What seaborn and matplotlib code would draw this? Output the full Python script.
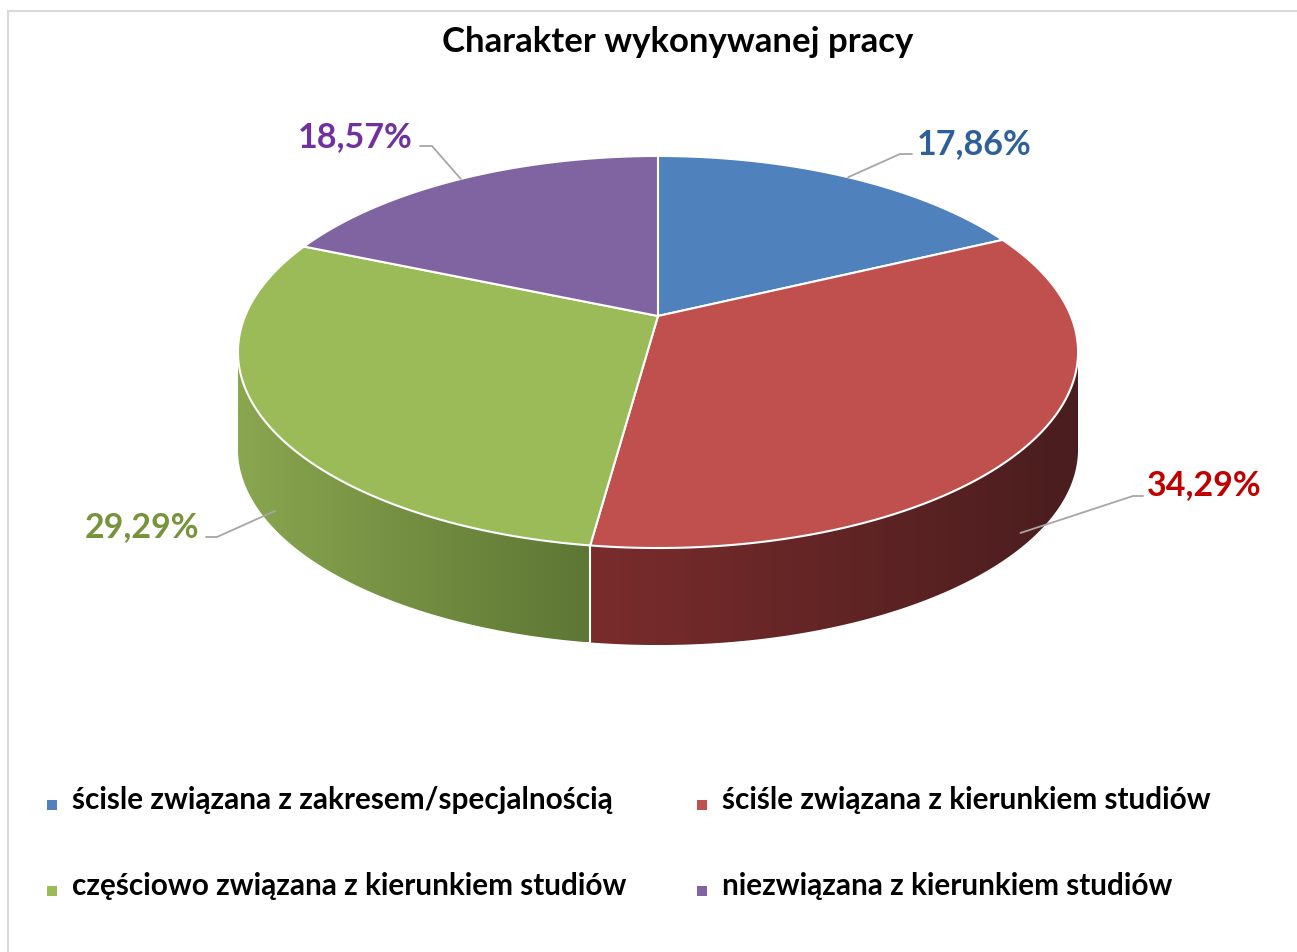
import numpy as np
import matplotlib
matplotlib.use("Agg")
import matplotlib.pyplot as plt
import seaborn as sns
from matplotlib.colors import LinearSegmentedColormap
from matplotlib.patches import Polygon
from matplotlib.path import Path
from matplotlib.transforms import Transform

# dane
kategorie = ["ścisle związana z zakresem/specjalnością",
             "ściśle związana z kierunkiem studiów",
             "częściowo związana z kierunkiem studiów",
             "niezwiązana z kierunkiem studiów"]
wartosci = [17.86, 34.29, 29.29, 18.57]
etykiety = ["17,86%", "34,29%", "29,29%", "18,57%"]

kolory = ["#4f81bd", "#c0504d", "#9bbb59", "#8064a2"]
kolory_tekstu = ["#2f5f98", "#c00000", "#77933c", "#7030a0"]
# gradient boków (jasny -> ciemny)
kolory_bokow = [("#3a5f8c", "#2a4466"), ("#7a2c2c", "#4a1d1e"),
                ("#8aa64f", "#5d7634"), ("#5f4a7a", "#443558")]

sns.set_theme(style="white")
plt.rcParams["font.family"] = ["Lato", "DejaVu Sans"]

W, H = 1297, 952
K = 0.1837                    # siła perspektywy
CX, CY = 658, 316             # środek koła (wierzchołek wycinków) w pikselach
SX, SY, GLEB = 412.9, 189.4, 97


class Perspektywa(Transform):
    input_dims = output_dims = 2
    is_separable = False

    def transform_non_affine(self, xy):
        xy = np.asarray(xy, dtype=float)
        w = 1 + K * xy[:, 1]
        return np.column_stack([xy[:, 0] / w, xy[:, 1] / w])

    def transform_path_non_affine(self, path):
        ts = np.linspace(0, 1, 40)
        pts = [np.atleast_2d(seg(ts)) for seg, _ in path.iter_bezier()]
        return Path(self.transform_non_affine(np.vstack(pts)))


persp = Perspektywa()

fig = plt.figure(figsize=(W / 100, H / 100), dpi=100)

# wykres kołowy 3D
ax = fig.add_axes([0, 0, 1, 1])
wedges, _ = ax.pie(wartosci, colors=kolory, startangle=90, counterclock=False,
                   wedgeprops=dict(edgecolor="white", linewidth=1.5))
for w in wedges:
    w.set_transform(persp + ax.transData)

# boki walca z gradientem
d = GLEB / SY
kat_min = -180 + np.degrees(np.arcsin(K))
kat_max = -np.degrees(np.arcsin(K))
granice = []
for w, (c1, c2) in zip(wedges, kolory_bokow):
    for k in (-360, 0, 360):
        a0 = max(w.theta1 + k, kat_min)
        a1 = min(w.theta2 + k, kat_max)
        if a1 <= a0:
            continue
        granice += [a0, a1]
        kat = np.radians(np.linspace(a0, a1, 200))
        uv = persp.transform_non_affine(np.column_stack([np.cos(kat), np.sin(kat)]))
        obrys = np.vstack([uv, (uv - [0, d])[::-1]])
        bok = Polygon(obrys, closed=True, facecolor="none", edgecolor="none", zorder=0.5)
        ax.add_patch(bok)
        cmap = LinearSegmentedColormap.from_list("bok", [c1, c2])
        grad = np.linspace(0, 1, 256).reshape(1, -1)
        img = ax.imshow(grad, cmap=cmap, aspect="auto", interpolation="bilinear",
                        extent=[uv[:, 0].min(), uv[:, 0].max(), uv[:, 1].min() - d, uv[:, 1].max()],
                        zorder=0.5)
        img.set_clip_path(bok)
for g in set(granice):
    if kat_min + 1 < g < kat_max - 1:
        r = np.radians(g)
        u, v = persp.transform_non_affine([[np.cos(r), np.sin(r)]])[0]
        ax.plot([u, u], [v, v - d], color="white", lw=1.5, zorder=0.8)

ax.set_aspect("auto")
ax.set_xlim(-CX / SX, (W - CX) / SX)
ax.set_ylim((CY - H) / SY, CY / SY)
ax.axis("off")

# warstwa tekstów w pikselach
bg = fig.add_axes([0, 0, 1, 1], zorder=2)
bg.patch.set_alpha(0)
bg.set_xlim(0, W)
bg.set_ylim(H, 0)
bg.axis("off")

bg.plot([8, 8], [11, H], color="#d9d9d9", lw=1.5)
bg.plot([8, W], [11, 11], color="#d9d9d9", lw=1.5)

bg.text(678, 52, "Charakter wykonywanej pracy", ha="center", va="baseline",
        fontsize=25, fontweight="bold", color="black")

# etykiety z liniami odniesienia
pozycje_tekstu = [(917, 154, "left"), (1147, 495, "left"), (199, 537, "right"), (413, 147, "right")]
lamania = [[(900, 154), (912, 154)], [(1133, 496), (1143, 496)],
           [(217, 537), (206, 537)], [(432, 146), (420, 146)]]
for w, lab, kol, (tx, ty, ha), lam in zip(wedges, etykiety, kolory_tekstu, pozycje_tekstu, lamania):
    m = np.radians((w.theta1 + w.theta2) / 2)
    u, v = persp.transform_non_affine([[np.cos(m), np.sin(m)]])[0]
    px = CX + SX * u
    py = CY - SY * v + (GLEB * 0.95 if v < 0 else 0)
    if v < 0:
        px = CX + np.sign(u) * (abs(SX * u) - 12)
    pts = [(px, py)] + lam
    bg.plot([p[0] for p in pts], [p[1] for p in pts], color="#a6a6a6", lw=1.3)
    bg.text(tx, ty, lab, ha=ha, va="baseline", fontsize=24.5, fontweight="bold", color=kol)

# legenda
poz_leg = [(52, 805), (702, 805), (52, 891), (702, 891)]
for (lx, ly), kat_, kol in zip(poz_leg, kategorie, kolory):
    bg.scatter([lx], [ly], marker="s", s=55, color=kol, linewidths=0)
    bg.text(lx + 20, ly + 4, kat_, ha="left", va="baseline", fontsize=21.4,
            fontweight="bold", color="black")

fig.savefig("out.png", dpi=100)
